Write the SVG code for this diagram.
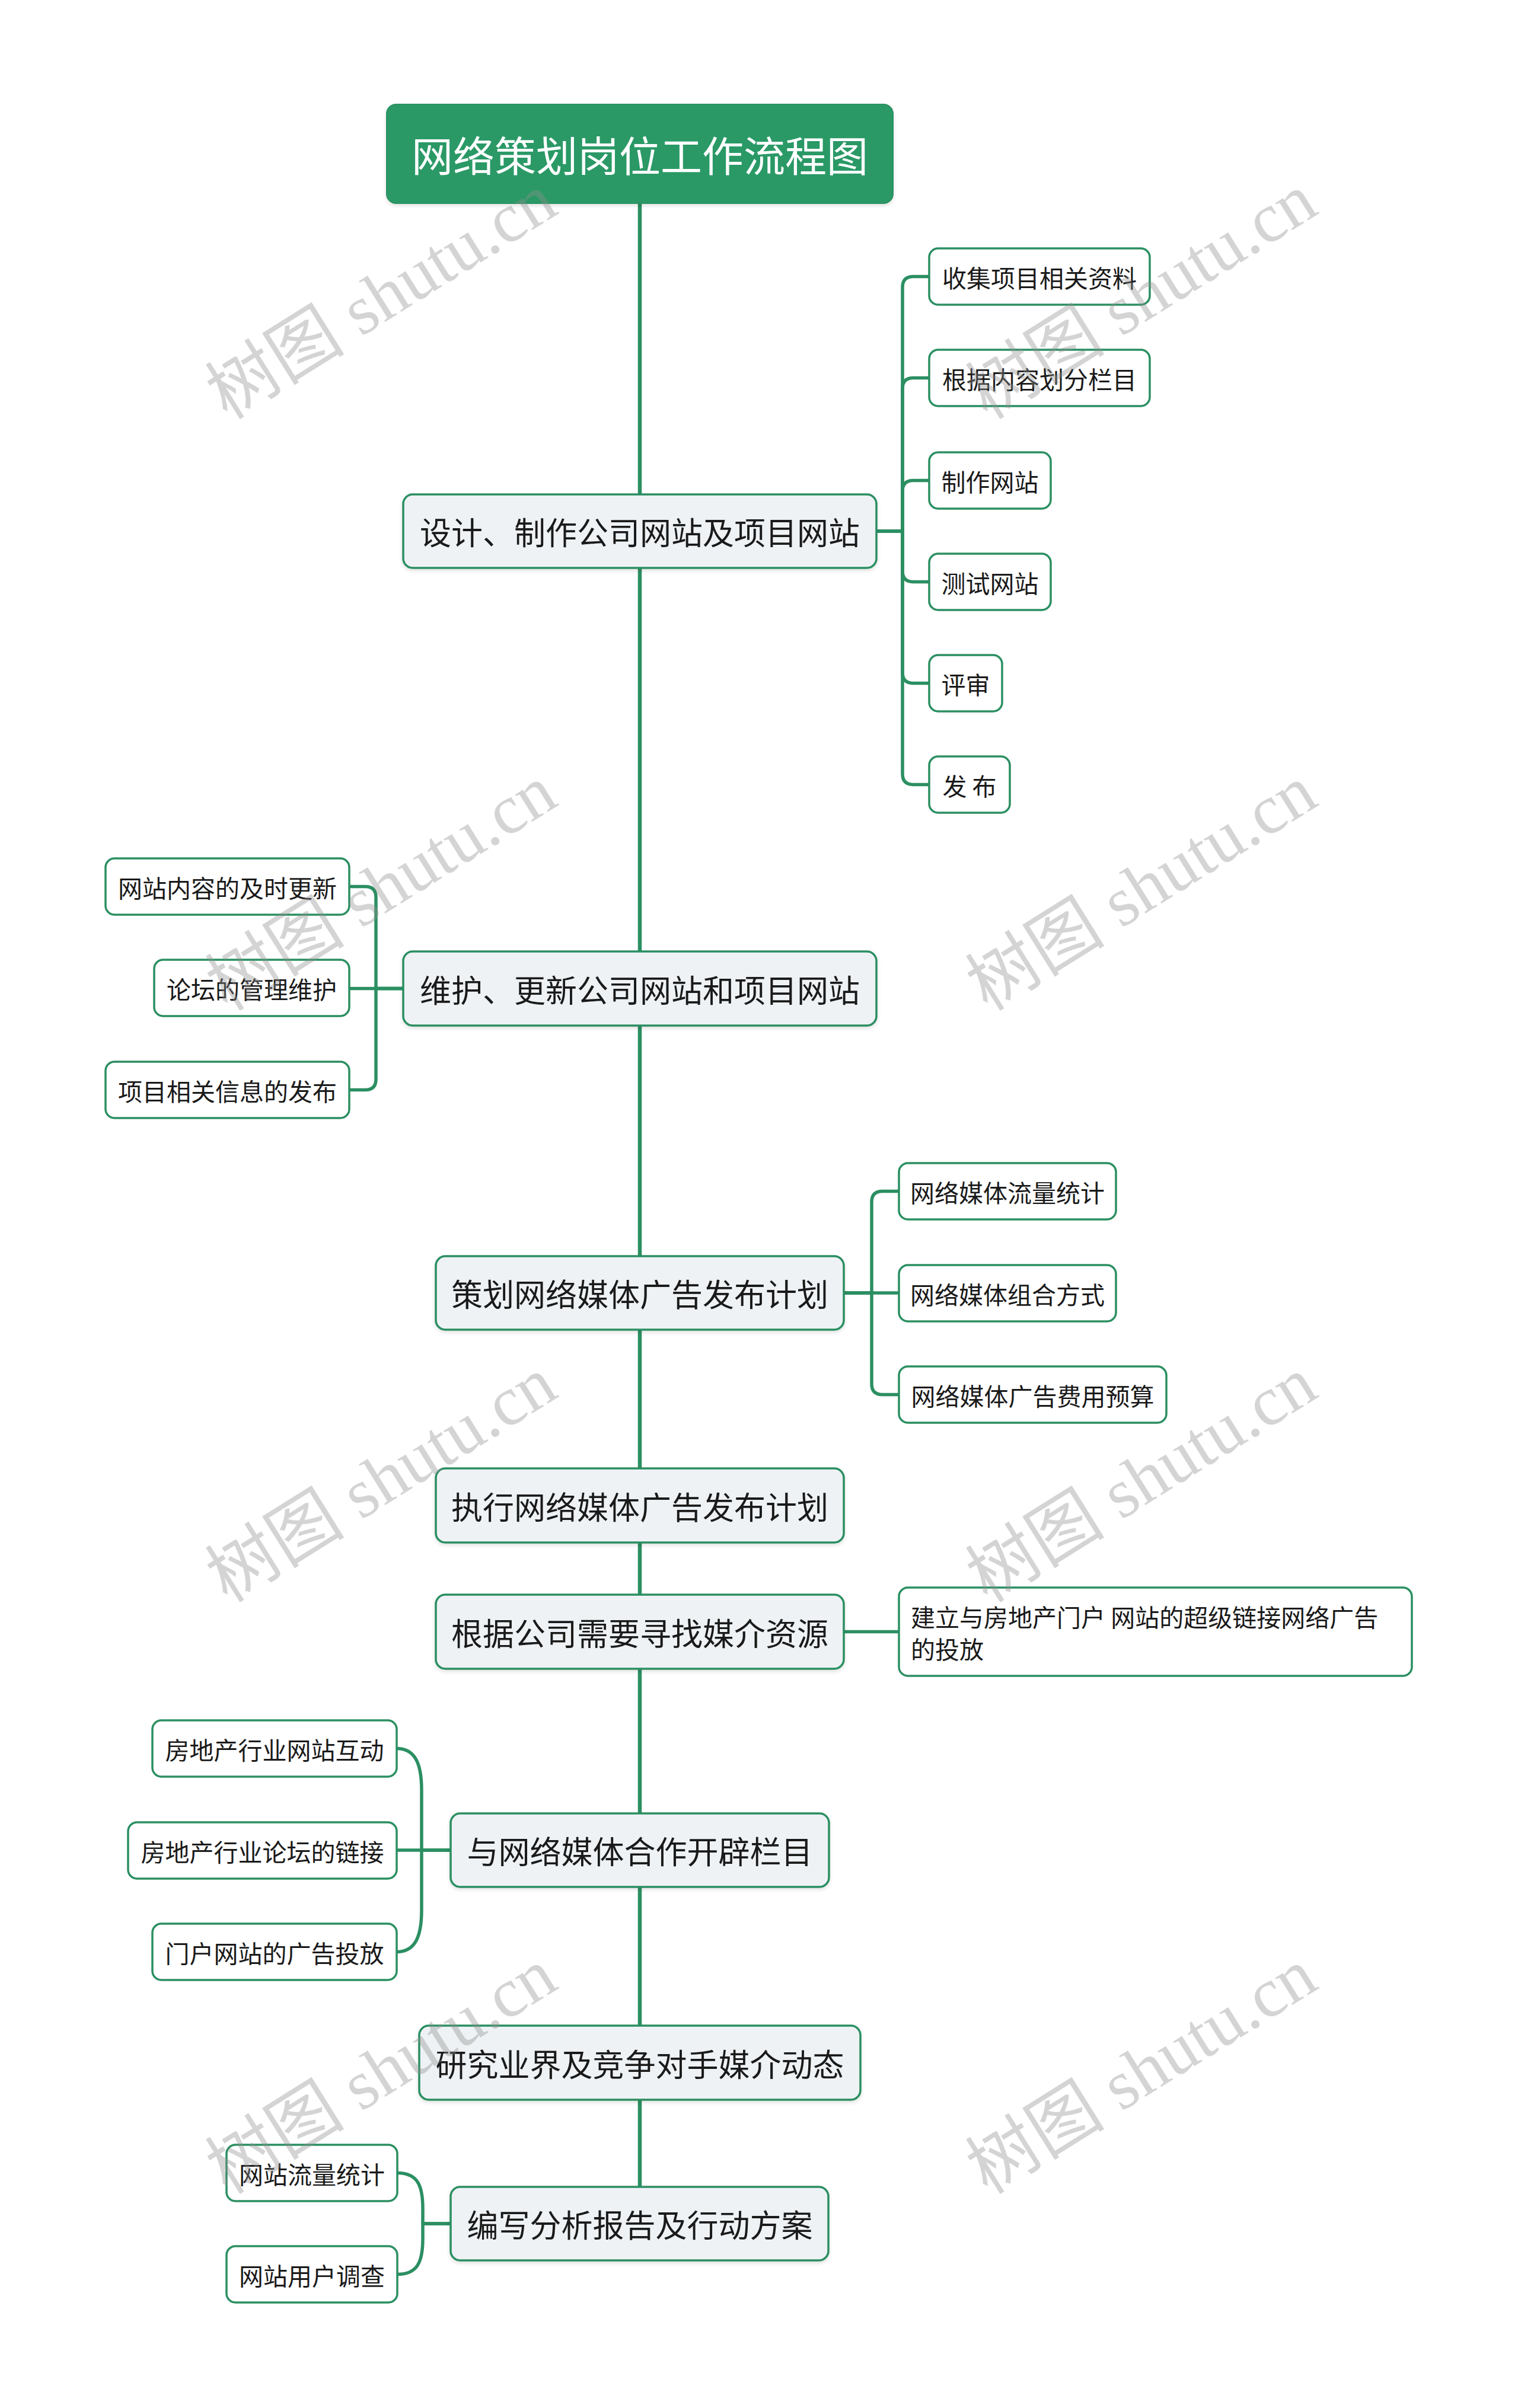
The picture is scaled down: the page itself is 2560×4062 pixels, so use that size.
<svg xmlns="http://www.w3.org/2000/svg" width="2560" height="4062" viewBox="0 0 2560 4062">
<style>
.bg{fill:#ffffff}
.ln{fill:none;stroke:#2b8f62;stroke-width:5.5;stroke-linecap:round;stroke-linejoin:round}
.stem{fill:none;stroke:#2b8f62;stroke-width:6.5}
.title rect{fill:#2a9966;stroke:#2a9164;stroke-width:2}
.title text{fill:#ffffff;font-family:"Noto Sans CJK SC","Noto Sans",sans-serif;font-size:70px;text-anchor:middle;dominant-baseline:central}
.main rect{fill:#eef2f5;stroke:#2b8f62;stroke-width:3.5}
.main text{fill:#1a1a1a;font-family:"Noto Sans CJK SC","Noto Sans",sans-serif;font-size:53px;text-anchor:middle;dominant-baseline:central}
.sub rect{fill:#ffffff;stroke:#2b8f62;stroke-width:3.5}
.sub text{fill:#1a1a1a;font-family:"Noto Sans CJK SC","Noto Sans",sans-serif;font-size:41px;text-anchor:middle;dominant-baseline:central}
.sub text.l{text-anchor:start}
.wm{fill:#8f8f8f;opacity:0.38;font-family:"Liberation Serif","Noto Sans CJK SC",serif;font-size:118px;text-anchor:middle}
</style>
<defs>
<filter id="sh" x="-5%" y="-10%" width="110%" height="130%">
<feDropShadow dx="0" dy="3" stdDeviation="3" flood-color="#000" flood-opacity="0.12"/>
</filter>
</defs>
<rect class="bg" x="0" y="0" width="2560" height="4062"/>

<g id="connectors">
<path class="stem" d="M1079 343 V3689"/>
<path class="ln" d="M1478 896 H1522 V484.5 Q1522 466.5 1540 466.5 H1567"/>
<path class="ln" d="M1478 896 H1522 V655.5 Q1522 637.5 1540 637.5 H1567"/>
<path class="ln" d="M1478 896 H1522 V828.5 Q1522 810.5 1540 810.5 H1567"/>
<path class="ln" d="M1478 896 H1522 V963.5 Q1522 981.5 1540 981.5 H1567"/>
<path class="ln" d="M1478 896 H1522 V1134.5 Q1522 1152.5 1540 1152.5 H1567"/>
<path class="ln" d="M1478 896 H1522 V1305.5 Q1522 1323.5 1540 1323.5 H1567"/>
<path class="ln" d="M680 1667.5 H634 V1513.5 Q634 1495.5 616 1495.5 H589"/>
<path class="ln" d="M680 1667.5 H589"/>
<path class="ln" d="M680 1667.5 H634 V1820.5 Q634 1838.5 616 1838.5 H589"/>
<path class="ln" d="M1423 2181 H1470 V2027.5 Q1470 2009.5 1488 2009.5 H1516"/>
<path class="ln" d="M1423 2181 H1516"/>
<path class="ln" d="M1423 2181 H1470 V2334.5 Q1470 2352.5 1488 2352.5 H1516"/>
<path class="ln" d="M1423 2752.5 H1516"/>
<path class="ln" d="M760 3121 H711 V3020 C711 2975 700 2949.5 669 2949.5"/>
<path class="ln" d="M760 3121 H669"/>
<path class="ln" d="M760 3121 H711 V3222 C711 3267 700 3292.5 669 3292.5"/>
<path class="ln" d="M760 3751 H713 V3725 C713 3685 703 3665.5 670 3665.5"/>
<path class="ln" d="M760 3751 H713 V3777 C713 3817 703 3836.5 670 3836.5"/>
</g>

<g id="root" class="title"><rect x="652" y="176" width="854" height="167" rx="16" filter="url(#sh)"/><text x="1079" y="259.5">网络策划岗位工作流程图</text></g>

<g id="n1" class="main"><rect x="680" y="834" width="798" height="124" rx="16" filter="url(#sh)"/><text x="1079" y="896">设计、制作公司网站及项目网站</text></g>
<g id="n1a" class="sub"><rect x="1567" y="419" width="372" height="95" rx="15"/><text x="1753" y="466.5">收集项目相关资料</text></g>
<g id="n1b" class="sub"><rect x="1567" y="590" width="372" height="95" rx="15"/><text x="1753" y="637.5">根据内容划分栏目</text></g>
<g id="n1c" class="sub"><rect x="1567" y="763" width="205" height="95" rx="15"/><text x="1669.5" y="810.5">制作网站</text></g>
<g id="n1d" class="sub"><rect x="1567" y="934" width="205" height="95" rx="15"/><text x="1669.5" y="981.5">测试网站</text></g>
<g id="n1e" class="sub"><rect x="1567" y="1105" width="123" height="95" rx="15"/><text x="1628.5" y="1152.5">评审</text></g>
<g id="n1f" class="sub"><rect x="1567" y="1276" width="136" height="95" rx="15"/><text x="1635" y="1323.5">发 布</text></g>

<g id="n2" class="main"><rect x="680" y="1605" width="798" height="125" rx="16" filter="url(#sh)"/><text x="1079" y="1667.5">维护、更新公司网站和项目网站</text></g>
<g id="n2a" class="sub"><rect x="178" y="1448" width="411" height="95" rx="15"/><text x="383.5" y="1495.5">网站内容的及时更新</text></g>
<g id="n2b" class="sub"><rect x="260" y="1619" width="329" height="95" rx="15"/><text x="424.5" y="1666.5">论坛的管理维护</text></g>
<g id="n2c" class="sub"><rect x="178" y="1791" width="411" height="95" rx="15"/><text x="383.5" y="1838.5">项目相关信息的发布</text></g>

<g id="n3" class="main"><rect x="735" y="2119" width="688" height="124" rx="16" filter="url(#sh)"/><text x="1079" y="2181">策划网络媒体广告发布计划</text></g>
<g id="n3a" class="sub"><rect x="1516" y="1962" width="366" height="95" rx="15"/><text x="1699" y="2009.5">网络媒体流量统计</text></g>
<g id="n3b" class="sub"><rect x="1516" y="2134" width="366" height="95" rx="15"/><text x="1699" y="2181.5">网络媒体组合方式</text></g>
<g id="n3c" class="sub"><rect x="1516" y="2305" width="451" height="95" rx="15"/><text x="1741.5" y="2352.5">网络媒体广告费用预算</text></g>

<g id="n4" class="main"><rect x="735" y="2477" width="688" height="125" rx="16" filter="url(#sh)"/><text x="1079" y="2539.5">执行网络媒体广告发布计划</text></g>

<g id="n5" class="main"><rect x="735" y="2690" width="688" height="125" rx="16" filter="url(#sh)"/><text x="1079" y="2752.5">根据公司需要寻找媒介资源</text></g>
<g id="n5a" class="sub"><rect x="1516" y="2678" width="865" height="149" rx="15"/><text class="l" x="1536" y="2726">建立与房地产门户 网站的超级链接网络广告</text><text class="l" x="1536" y="2780">的投放</text></g>

<g id="n6" class="main"><rect x="760" y="3059" width="638" height="124" rx="16" filter="url(#sh)"/><text x="1079" y="3121">与网络媒体合作开辟栏目</text></g>
<g id="n6a" class="sub"><rect x="257" y="2902" width="412" height="95" rx="15"/><text x="463" y="2949.5">房地产行业网站互动</text></g>
<g id="n6b" class="sub"><rect x="216" y="3074" width="453" height="95" rx="15"/><text x="442.5" y="3121.5">房地产行业论坛的链接</text></g>
<g id="n6c" class="sub"><rect x="257" y="3245" width="412" height="95" rx="15"/><text x="463" y="3292.5">门户网站的广告投放</text></g>

<g id="n7" class="main"><rect x="707" y="3417" width="744" height="125" rx="16" filter="url(#sh)"/><text x="1079" y="3479.5">研究业界及竞争对手媒介动态</text></g>

<g id="n8" class="main"><rect x="760" y="3689" width="637" height="124" rx="16" filter="url(#sh)"/><text x="1079" y="3751">编写分析报告及行动方案</text></g>
<g id="n8a" class="sub"><rect x="382" y="3618" width="288" height="95" rx="15"/><text x="526" y="3665.5">网站流量统计</text></g>
<g id="n8b" class="sub"><rect x="382" y="3789" width="288" height="95" rx="15"/><text x="526" y="3836.5">网站用户调查</text></g>

<g id="watermarks">
<text class="wm" transform="translate(643,500) rotate(-32)" x="0" y="40">树图 shutu.cn</text>
<text class="wm" transform="translate(1925,500) rotate(-32)" x="0" y="40">树图 shutu.cn</text>
<text class="wm" transform="translate(643,1498) rotate(-32)" x="0" y="40">树图 shutu.cn</text>
<text class="wm" transform="translate(1925,1498) rotate(-32)" x="0" y="40">树图 shutu.cn</text>
<text class="wm" transform="translate(643,2496) rotate(-32)" x="0" y="40">树图 shutu.cn</text>
<text class="wm" transform="translate(1925,2496) rotate(-32)" x="0" y="40">树图 shutu.cn</text>
<text class="wm" transform="translate(643,3494) rotate(-32)" x="0" y="40">树图 shutu.cn</text>
<text class="wm" transform="translate(1925,3494) rotate(-32)" x="0" y="40">树图 shutu.cn</text>
</g>
</svg>
